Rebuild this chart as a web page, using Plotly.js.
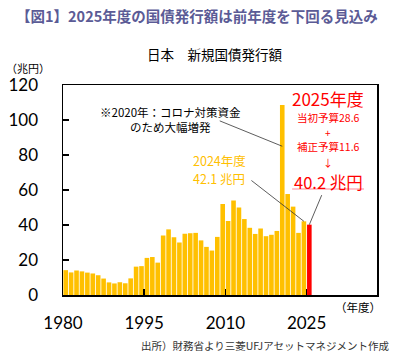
<!DOCTYPE html>
<html>
<head>
<meta charset="utf-8">
<script src="https://cdn.plot.ly/plotly-3.0.1.min.js"></script>
<style>
  html, body { margin: 0; padding: 0; background: #ffffff; }
  #chart { width: 411px; height: 358px; }
</style>
</head>
<body>
<div id="chart"></div>
<script>
// ---- data ----
const years = [1980,1981,1982,1983,1984,1985,1986,1987,1988,1989,
               1990,1991,1992,1993,1994,1995,1996,1997,1998,1999,
               2000,2001,2002,2003,2004,2005,2006,2007,2008,2009,
               2010,2011,2012,2013,2014,2015,2016,2017,2018,2019,
               2020,2021,2022,2023,2024,2025];
const issuance = [14.2,12.9,14.0,13.5,12.8,12.3,11.3,9.4,7.2,6.6,
                  7.3,6.7,9.5,16.2,16.5,21.2,21.7,18.5,34.0,37.5,
                  33.0,30.0,35.0,35.3,35.5,31.2,27.5,25.4,33.2,52.0,
                  42.3,54.0,50.0,43.4,38.4,34.9,38.0,33.6,34.4,36.6,
                  108.6,57.7,50.5,35.5,42.1,40.2];
const tickYears = [1980, 1995, 2010, 2025];
const yTicks = [0, 20, 40, 60, 80, 100, 120];
const highlightYear = 2025;
const initialBudget = 28.6;
const supplementary = 11.6;

// ---- styles ----
const GOLD = '#FFC000';
const RED = '#FF0000';
const numFont = 'Lato, "Noto Sans", sans-serif';
const jpFont = '"Noto Sans CJK JP", "Noto Sans", sans-serif';

const valueOf = y => issuance[years.indexOf(y)];
const colors = years.map(y => y === highlightYear ? RED : GOLD);

const L = 62.5, R = 377, T = 85, B = 295;
const fx = p => (p - L) / (R - L);
const fy = p => (B - p) / (B - T);

function txt(text, px, py, size, color, xanchor, extra) {
  return Object.assign({
    text: text, xref: 'paper', yref: 'paper', x: fx(px), y: fy(py),
    xanchor: xanchor || 'center', yanchor: 'middle', showarrow: false,
    borderpad: 0,
    font: {family: jpFont, size: size, color: color}
  }, extra || {});
}
function leader(year, yval, ax, ay) {
  return {text: '', xref: 'x', yref: 'y', x: year, y: yval, ax: ax, ay: ay,
          showarrow: true, arrowhead: 0, arrowwidth: 0.8, arrowcolor: '#333333'};
}

const trace = {
  type: 'bar', x: years, y: issuance,
  marker: {color: colors, line: {width: 0}},
  hoverinfo: 'x+y'
};

const layout = {
  width: 411, height: 358,
  margin: {l: L, r: 411 - R, t: T, b: 358 - B, pad: 0},
  paper_bgcolor: '#ffffff', plot_bgcolor: '#ffffff',
  showlegend: false, bargap: 0.15,
  xaxis: {
    range: [1979.5, 2037.5],
    tickvals: tickYears.map(y => y - 0.5), ticktext: tickYears.map(String),
    ticks: 'inside', ticklen: 6, tickwidth: 1.5, tickcolor: '#000',
    showline: true, linecolor: '#000', linewidth: 1.5, mirror: true,
    showgrid: false, zeroline: false, fixedrange: true,
    ticklabelstandoff: 12,
    tickfont: {family: numFont, size: 17, color: '#000'}
  },
  yaxis: {
    range: [0, 120], tickvals: yTicks,
    ticks: 'inside', ticklen: 6, tickwidth: 1.5, tickcolor: '#000',
    showline: true, linecolor: '#000', linewidth: 1.5, mirror: true,
    showgrid: false, zeroline: false, fixedrange: true,
    ticklabelstandoff: 20,
    tickfont: {family: numFont, size: 17, color: '#000'}
  },
  annotations: [
    txt('<b>【図1】2025年度の国債発行額は前年度を下回る見込み</b>', 14, 15, 14.5, '#5b5b96', 'left'),
    txt('日本　新規国債発行額', 215, 54, 13.5, '#000'),
    txt('（兆円）', 4, 68, 11, '#000', 'left'),
    txt('（年度）', 334, 307, 11.5, '#000', 'left'),
    txt('出所）財務省より三菱UFJアセットマネジメント作成', 390, 345, 10.5, '#333', 'right'),
    txt('※2020年：コロナ対策資金<br>のため大幅増発', 170, 119, 11.5, '#000'),
    txt('2024年度', 219, 160, 12.5, GOLD),
    txt(valueOf(2024).toFixed(1) + ' 兆円', 219, 178.5, 12.5, GOLD),
    txt(highlightYear + '年度', 328, 98, 17, RED),
    txt('当初予算' + initialBudget.toFixed(1), 328, 117, 10.5, RED),
    txt('+', 328, 132.5, 10, RED),
    txt('補正予算' + supplementary.toFixed(1), 328, 146.5, 10.5, RED),
    txt('↓', 328, 162.5, 10, RED),
    txt(valueOf(highlightYear).toFixed(1) + ' 兆円', 328, 182, 16.5, RED),
    leader(2020, 85, -64, -26),
    leader(2024, valueOf(2024), -54, -42),
    leader(highlightYear, valueOf(highlightYear), 13, -31)
  ],
  shapes: [
    {type: 'line', xref: 'paper', yref: 'paper', x0: fx(292), x1: fx(364), y0: fy(189), y1: fy(189),
     line: {color: '#ffb0b8', width: 1.5}}
  ]
};

Plotly.newPlot('chart', [trace], layout, {displayModeBar: false, staticPlot: true});
</script>
</body>
</html>
